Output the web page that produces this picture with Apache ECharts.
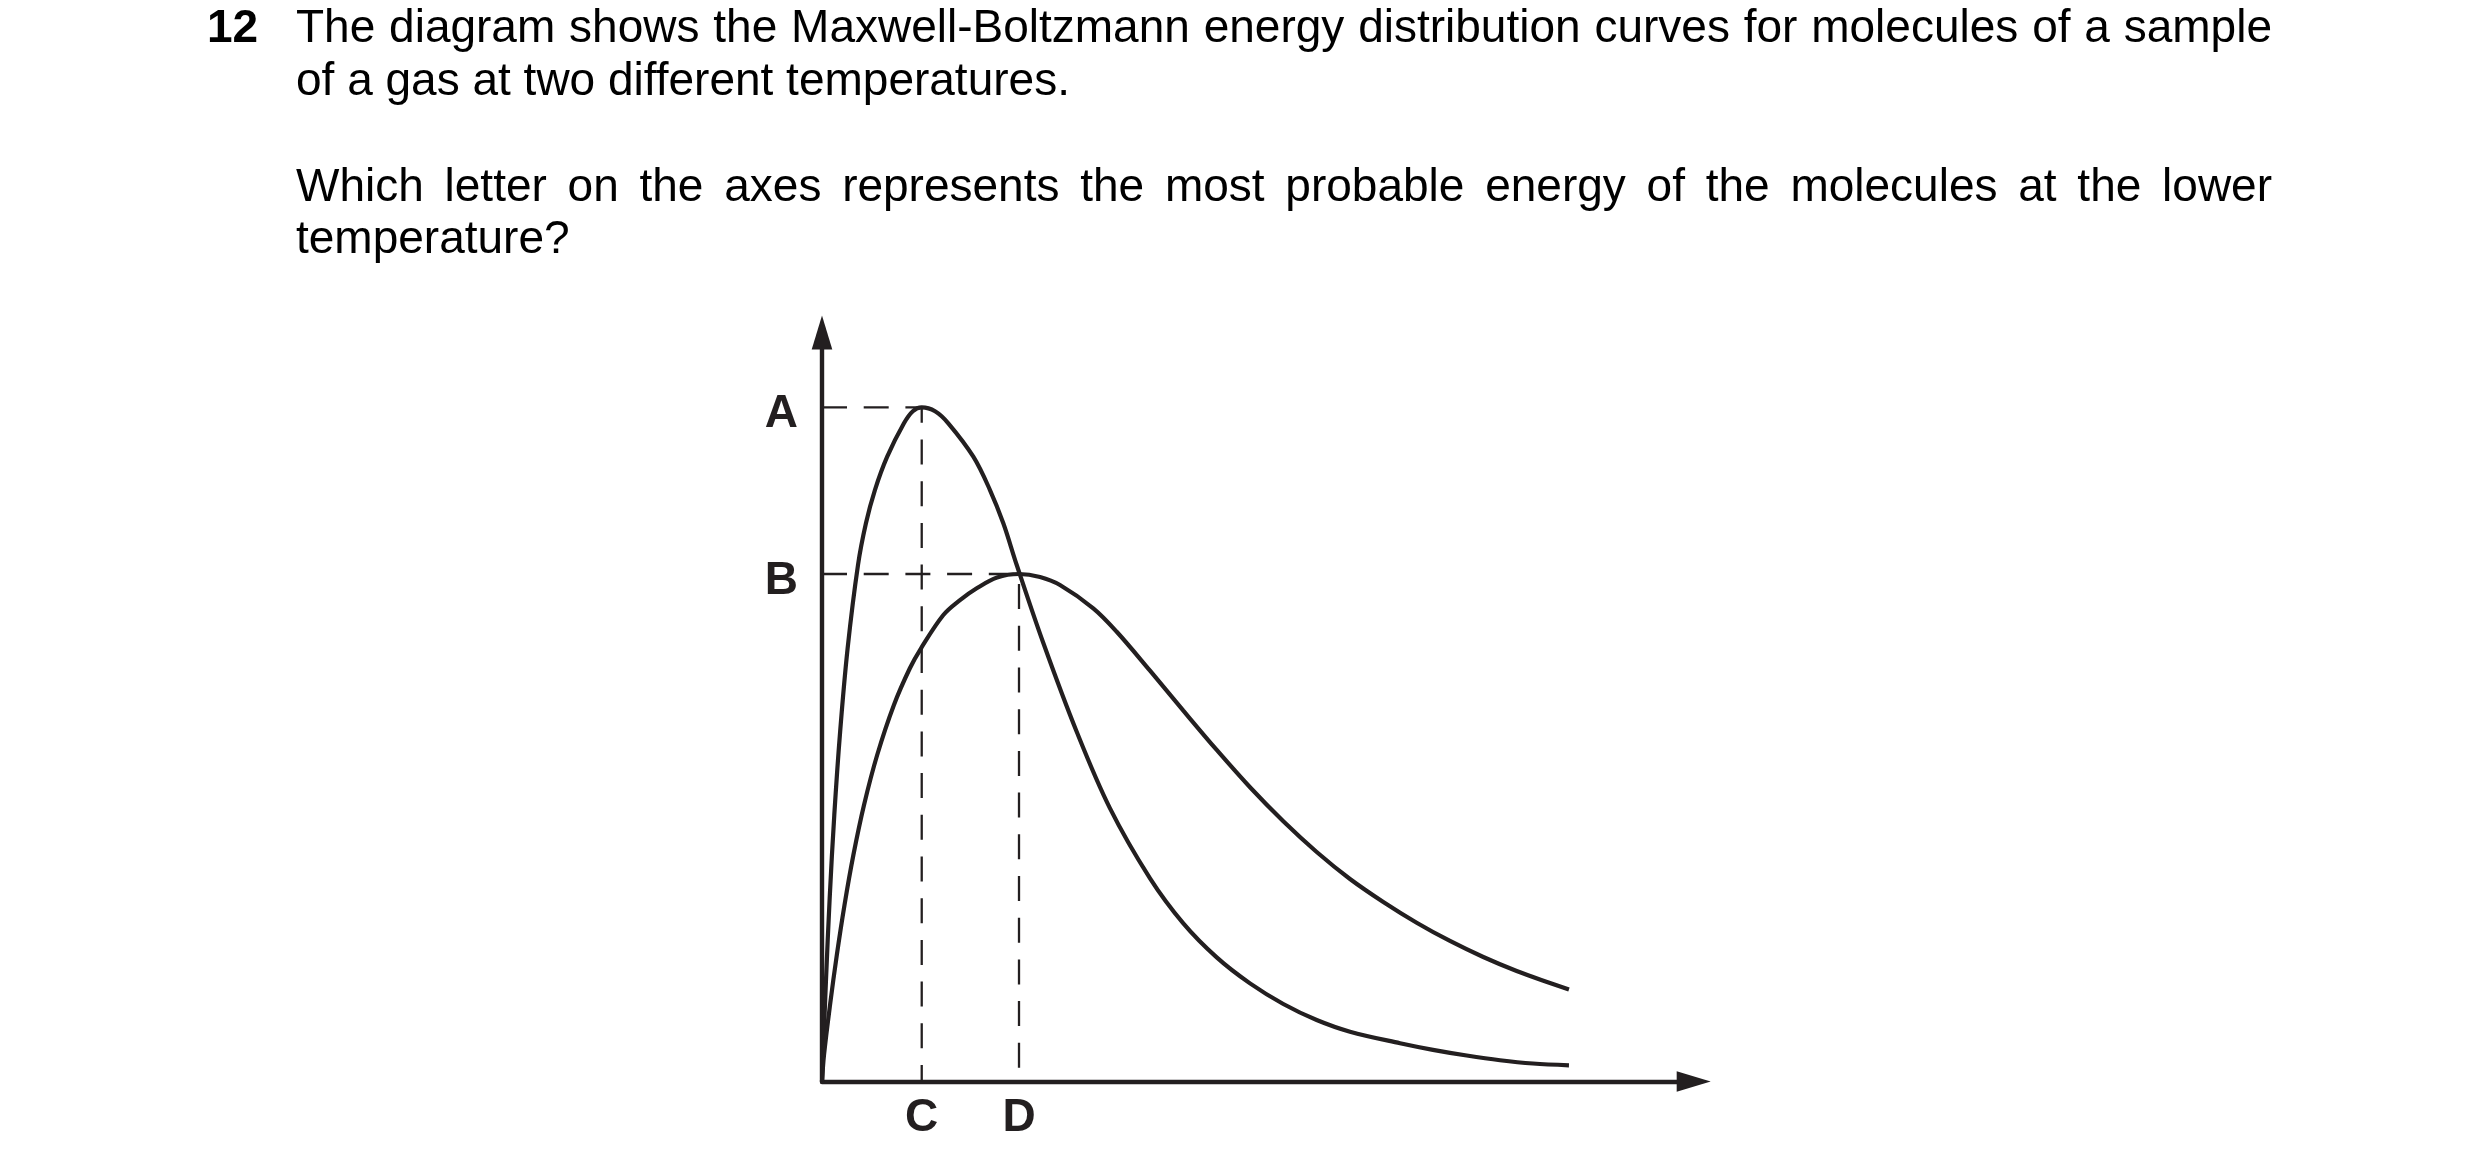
<!DOCTYPE html>
<html>
<head>
<meta charset="utf-8">
<script src="https://cdn.jsdelivr.net/npm/echarts@6/dist/echarts.min.js"></script>
<style>
html,body{margin:0;padding:0;background:#ffffff;}
#chart{width:2480px;height:1170px;}
</style>
</head>
<body>
<div id="chart"></div>
<script>
// ---- data (energy: 0..100, fraction of molecules: 0..100) ----
const lowTempEnergy = [0, 0.07, 0.45, 0.88, 1.41, 2.08, 2.94, 4.13, 5.04, 6.07, 7.48, 9.40, 10.42, 11.44, 12.97, 14.49, 17.36, 19.27, 20.80, 22.34, 25.39, 29.22, 33.04, 37.63, 41.45, 45.28, 49.10, 52.92, 56.75, 60.57, 66.31, 70.09, 73.96, 77.78, 81.56, 85.69];
const lowTempFraction = [0, 2.20, 13.32, 24.46, 35.58, 46.70, 57.84, 68.96, 74.53, 78.97, 83.42, 87.88, 89.49, 90.00, 89.49, 87.88, 83.42, 78.97, 74.53, 68.96, 58.54, 46.69, 36.46, 27.12, 21.11, 16.57, 13.10, 10.35, 8.21, 6.65, 5.11, 4.23, 3.47, 2.84, 2.40, 2.16];

const highTempEnergy = [0, 0.23, 0.92, 1.70, 2.58, 3.60, 4.82, 6.33, 8.25, 10.08, 11.36, 13.92, 15.83, 17.75, 20.08, 22.60, 25.01, 27.30, 31.12, 33.81, 37.63, 41.45, 45.28, 49.10, 52.92, 56.75, 60.57, 64.39, 68.22, 72.04, 75.86, 79.69, 83.51, 85.69];
const highTempFraction = [0, 3.54, 10.21, 16.89, 23.56, 30.24, 36.92, 43.59, 50.27, 55.17, 57.84, 62.28, 64.27, 65.85, 67.29, 67.76, 67.36, 66.29, 63.18, 60.05, 54.85, 49.51, 44.26, 39.28, 34.74, 30.64, 27.04, 23.97, 21.20, 18.76, 16.62, 14.75, 13.15, 12.28];

// axis letters (tick labels) and where they sit
const yLetters = ['A', 'B'];
const yLetterValues = [90.00, 67.76];
const xLetters = ['C', 'D'];
const xLetterValues = [11.44, 22.60];

// question text
const questionNumber = '12';
const questionLines = [
  'The diagram shows the Maxwell-Boltzmann energy distribution curves for molecules of a sample',
  'of a gas at two different temperatures.',
  'Which letter on the axes represents the most probable energy of the molecules at the lower',
  'temperature?'
];
const justifiedLines = [true, false, true, false];

// ---- rendering ----
const INK = '#231f20';
const TEXT = '#000000';
const FONT = '"Liberation Sans", Arial, Helvetica, sans-serif';
const FS = 46;

const zip = (xs, ys) => xs.map((x, i) => [x, ys[i]]);

const measure = document.createElement('canvas').getContext('2d');
measure.font = FS + 'px ' + FONT;

const textLeft = 296, textRight = 2272, numberLeft = 207;
const lineMiddles = [29.8, 82.5, 188.6, 240.6];

const graphics = [];
function addText(str, x, y, bold) {
  graphics.push({
    type: 'text', x: x, y: y, silent: true,
    style: {
      text: str, font: (bold ? 'bold ' : '') + FS + 'px ' + FONT, fill: TEXT,
      textAlign: 'left', textVerticalAlign: 'middle', align: 'left', verticalAlign: 'middle'
    }
  });
}
addText(questionNumber, numberLeft, lineMiddles[0], true);
questionLines.forEach((line, i) => {
  if (!justifiedLines[i]) { addText(line, textLeft, lineMiddles[i], false); return; }
  const words = line.split(' ');
  const widths = words.map(w => measure.measureText(w).width);
  const total = widths.reduce((a, b) => a + b, 0);
  const gap = (textRight - textLeft - total) / (words.length - 1);
  let x = textLeft;
  words.forEach((w, j) => { addText(w, x, lineMiddles[i], false); x += widths[j] + gap; });
});

function letterFor(values, letters) {
  return function (v) {
    const k = values.findIndex(t => Math.abs(t - v) < 1e-6);
    return k >= 0 ? letters[k] : '';
  };
}

function dashed(points, offset) {
  return {
    type: 'line', data: points, symbol: 'none', silent: true, z: 1,
    lineStyle: { color: INK, width: 2.3, type: [25, 16.7], dashOffset: offset, cap: 'butt' }
  };
}

const A = yLetterValues[0], B = yLetterValues[1], C = xLetterValues[0], D = xLetterValues[1];

const chart = echarts.init(document.getElementById('chart'), null, { renderer: 'canvas' });
chart.setOption({
  backgroundColor: '#ffffff',
  animation: false,
  grid: { left: 822, top: 332.5, width: 871.7, height: 749, containLabel: false, outerBoundsMode: 'none' },
  xAxis: {
    type: 'value', min: 0, max: 100,
    axisLine: { show: true, onZero: false, symbol: ['none', 'triangle'], symbolSize: [20.6, 34], lineStyle: { color: INK, width: 4.4 } },
    axisTick: { show: false },
    splitLine: { show: false },
    axisLabel: {
      customValues: xLetterValues, formatter: letterFor(xLetterValues, xLetters),
      color: INK, fontFamily: FONT, fontWeight: 'bold', fontSize: FS, margin: 14
    }
  },
  yAxis: {
    type: 'value', min: 0, max: 100,
    axisLine: { show: true, onZero: false, symbol: ['none', 'triangle'], symbolSize: [20.6, 34], lineStyle: { color: INK, width: 4.4 } },
    axisTick: { show: false },
    splitLine: { show: false },
    axisLabel: {
      customValues: yLetterValues, formatter: letterFor(yLetterValues, yLetters),
      color: INK, fontFamily: FONT, fontWeight: 'bold', fontSize: FS, margin: 24,
      verticalAlign: 'top', lineHeight: 14
    }
  },
  series: [
    dashed([[0, A], [C, A]], 0),
    dashed([[C, 0], [C, A]], 8.5),
    dashed([[0, B], [D, B]], 0),
    dashed([[D, 0], [D, B]], 28),
    {
      name: 'lower temperature', type: 'line', data: zip(lowTempEnergy, lowTempFraction),
      smooth: 0.35, symbol: 'none', z: 3, lineStyle: { color: INK, width: 4.2 }
    },
    {
      name: 'higher temperature', type: 'line', data: zip(highTempEnergy, highTempFraction),
      smooth: 0.35, symbol: 'none', z: 3, lineStyle: { color: INK, width: 4.2 }
    }
  ],
  graphic: graphics
});
</script>
</body>
</html>
